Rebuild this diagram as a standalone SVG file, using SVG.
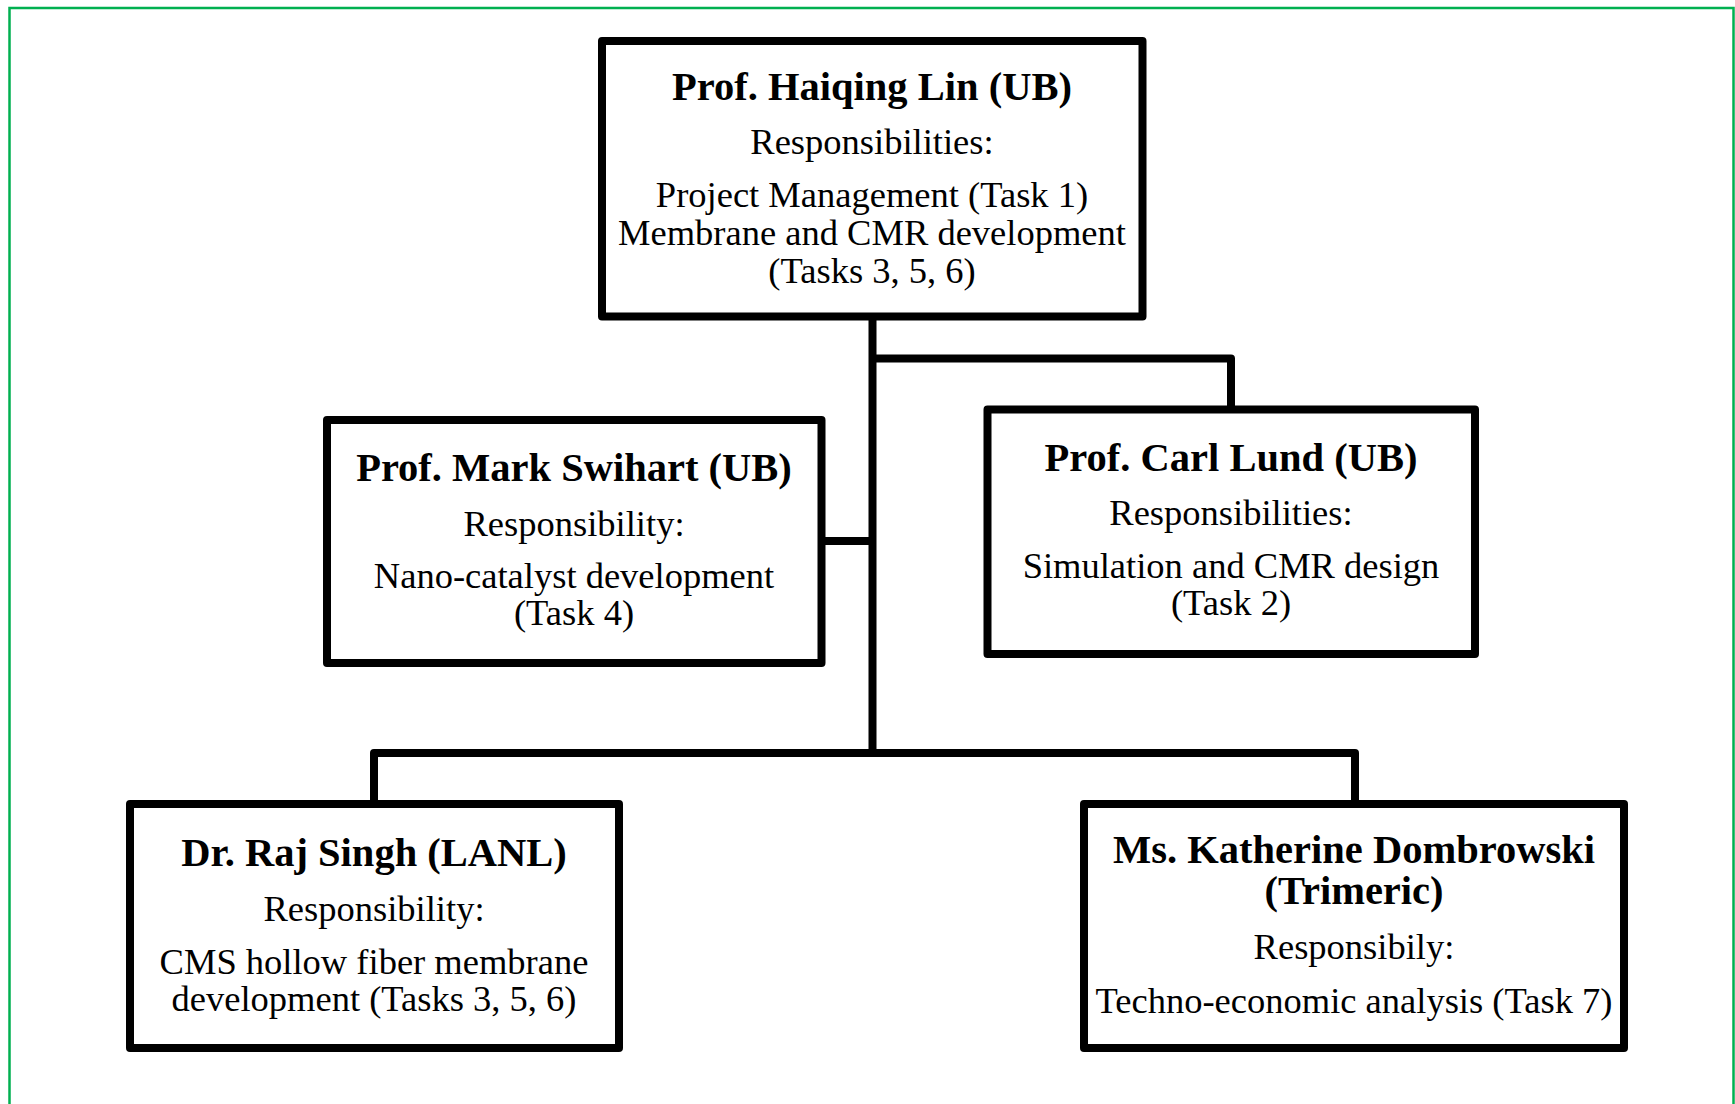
<svg xmlns="http://www.w3.org/2000/svg" width="1735" height="1104" viewBox="0 0 1735 1104">
<style>
.box{fill:#fff;stroke:#000;stroke-width:8;stroke-linejoin:round}
.con{fill:none;stroke:#000;stroke-width:8;stroke-linejoin:round}
.t{font-family:"Liberation Serif","Times New Roman",serif;text-anchor:middle;fill:#000}
.b{font-weight:bold;font-size:40.5px}
.r{font-size:36.5px}
</style>
<rect x="0" y="0" width="1735" height="1104" fill="#fff"/>
<rect x="9.5" y="8" width="1724" height="1110" fill="none" stroke="#00b050" stroke-width="2.5"/>
<g id="connectors">
<path class="con" d="M872.5,316 V753"/>
<path class="con" d="M872.5,358.5 H1231 V409.5"/>
<path class="con" d="M821.5,541 H872.5"/>
<path class="con" d="M374,804 V753 H1355 V804"/>
</g>
<g id="lin">
<rect class="box" x="602" y="41" width="540.5" height="275.5"/>
<text class="t b" x="872" y="99.5">Prof. Haiqing Lin (UB)</text>
<text class="t r" x="872" y="154">Responsibilities:</text>
<text class="t r" x="872" y="207">Project Management (Task 1)</text>
<text class="t r" x="872" y="245">Membrane and CMR development</text>
<text class="t r" x="872" y="283">(Tasks 3, 5, 6)</text>
</g>
<g id="swihart">
<rect class="box" x="327" y="420" width="494.5" height="243"/>
<text class="t b" x="574" y="481">Prof. Mark Swihart (UB)</text>
<text class="t r" x="574" y="535.5">Responsibility:</text>
<text class="t r" x="574" y="587.5">Nano-catalyst development</text>
<text class="t r" x="574" y="625">(Task 4)</text>
</g>
<g id="lund">
<rect class="box" x="987.5" y="409.5" width="487.5" height="244.5"/>
<text class="t b" x="1231" y="471">Prof. Carl Lund (UB)</text>
<text class="t r" x="1231" y="524.5">Responsibilities:</text>
<text class="t r" x="1231" y="577.5">Simulation and CMR design</text>
<text class="t r" x="1231" y="615">(Task 2)</text>
</g>
<g id="singh">
<rect class="box" x="130" y="804" width="489" height="244"/>
<text class="t b" x="374" y="866">Dr. Raj Singh (LANL)</text>
<text class="t r" x="374" y="920.5">Responsibility:</text>
<text class="t r" x="374" y="973.5">CMS hollow fiber membrane</text>
<text class="t r" x="374" y="1011">development (Tasks 3, 5, 6)</text>
</g>
<g id="dombrowski">
<rect class="box" x="1084" y="804" width="540" height="244"/>
<text class="t b" x="1354" y="863">Ms. Katherine Dombrowski</text>
<text class="t b" x="1354" y="904">(Trimeric)</text>
<text class="t r" x="1354" y="959">Responsibily:</text>
<text class="t r" x="1354" y="1012.5">Techno-economic analysis (Task 7)</text>
</g>
</svg>
